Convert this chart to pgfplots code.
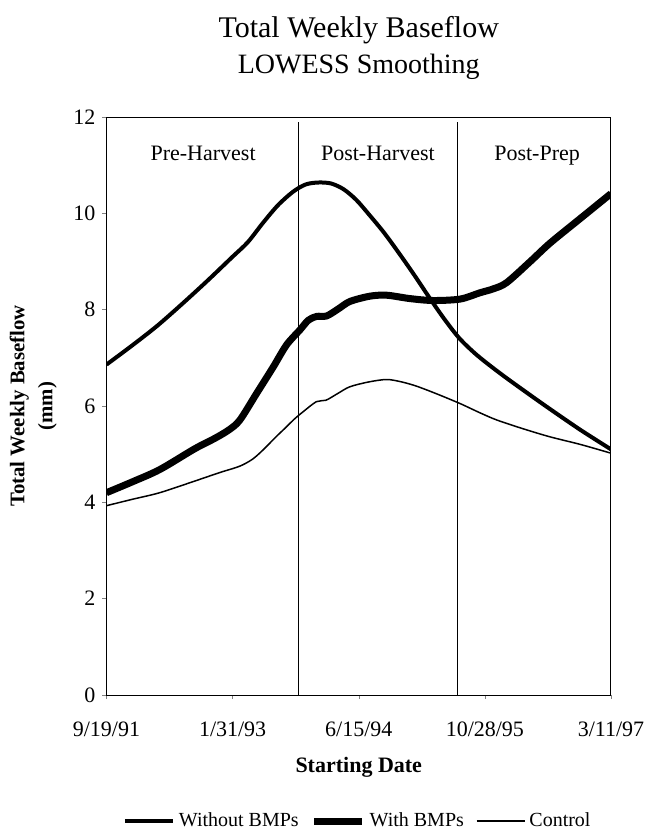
\documentclass[border=0pt]{standalone}
\usepackage{pgfplots}
\pgfplotsset{compat=1.18}
\usepackage{fontspec}
\setmainfont{Liberation Serif}

\begin{document}
\begin{tikzpicture}
\useasboundingbox (-53.25pt,-68pt) rectangle (269.75pt,347.5pt);
\begin{axis}[
    name=ax,
    scale only axis,
    width=252.25pt, height=289pt,
    xmin=0, xmax=2000, ymin=0, ymax=12,
    xtick={0,500,1000,1500,2000},
    xticklabels={9/19/91, 1/31/93, 6/15/94, 10/28/95, 3/11/97},
    ytick={0,2,...,12},
    xtick pos=bottom, ytick pos=left,
    tick align=outside,
    major tick length=2pt,
    /pgf/number format/assume math mode=true,
    tick label style={font=\fontsize{11}{13}\selectfont},
    xticklabel style={yshift=-8pt},
    xlabel={\textbf{Starting Date}},
    xlabel style={font=\fontsize{11}{13}\selectfont, at={(axis description cs:0.5,-0.125)}, anchor=center},
    ylabel={\textbf{Total Weekly Baseflow}\\\textbf{(mm)}},
    ylabel style={font=\fontsize{10.4}{14}\selectfont, align=center, at={(axis description cs:-0.145,0.5)}, anchor=center},
    axis line style={line width=0.5pt},
    legend columns=3,
    legend style={draw=none, fill=none, at={(axis description cs:0.5,-0.218)}, anchor=center,
        font=\fontsize{10}{12}\selectfont,
        /tikz/every even column/.append style={column sep=4pt},
        inner sep=0pt},
    legend image code/.code={\draw[#1] (0pt,0pt) -- (24pt,0pt);},
]
% period dividers
\addplot[black, line width=0.5pt, forget plot] coordinates {(763,0) (763,11.9)};
\addplot[black, line width=0.5pt, forget plot] coordinates {(1393,0) (1393,11.9)};

\addplot[black, line width=2pt, smooth] coordinates {
(0,6.86) (100,7.25) (200,7.66) (300,8.12) (400,8.6) (500,9.1) (560,9.4) (620,9.8)
(680,10.17) (740,10.45) (790,10.6) (840,10.64) (890,10.62) (940,10.5) (990,10.28)
(1040,9.98) (1100,9.6) (1160,9.17) (1220,8.72) (1280,8.25) (1340,7.8) (1400,7.4)
(1470,7.05) (1560,6.68) (1660,6.3) (1760,5.93) (1880,5.5) (2000,5.1)
};
\addplot[black, line width=3.5pt, smooth] coordinates {
(0,4.2) (100,4.42) (211,4.68) (349,5.11) (430,5.33) (487,5.51) (529,5.71) (595,6.26)
(661,6.81) (714,7.27) (767,7.58) (800,7.78) (833,7.86) (873,7.87) (920,8.02) (965,8.17)
(1044,8.28) (1111,8.30) (1203,8.23) (1295,8.19) (1402,8.22) (1480,8.35) (1532,8.43)
(1586,8.56) (1680,9.0) (1758,9.38) (1880,9.9) (2000,10.41)
};
\addplot[black, line width=0.75pt, smooth] coordinates {
(0,3.93) (100,4.06) (211,4.2) (349,4.44) (450,4.62) (528,4.75) (580,4.9) (625,5.11)
(670,5.35) (708,5.54) (745,5.73) (777,5.87) (832,6.09) (870,6.12) (920,6.27) (965,6.40)
(1040,6.5) (1111,6.55) (1170,6.5) (1230,6.41) (1310,6.25) (1402,6.05) (1480,5.86)
(1547,5.71) (1650,5.53) (1758,5.36) (1880,5.2) (2000,5.02)
};
\legend{Without BMPs, With BMPs, Control}

\node[anchor=base, font=\fontsize{11}{13}\selectfont] at (axis cs:383,11.1) {Pre-Harvest};
\node[anchor=base, font=\fontsize{11}{13}\selectfont] at (axis cs:1076,11.1) {Post-Harvest};
\node[anchor=base, font=\fontsize{11}{13}\selectfont] at (axis cs:1707,11.1) {Post-Prep};
\end{axis}
\node[anchor=base, font=\fontsize{15}{18}\selectfont] at ([yshift=39.5pt]ax.north) {Total Weekly Baseflow};
\node[anchor=base, font=\fontsize{14}{17}\selectfont] at ([yshift=21.5pt]ax.north) {LOWESS Smoothing};
\end{tikzpicture}
\end{document}
